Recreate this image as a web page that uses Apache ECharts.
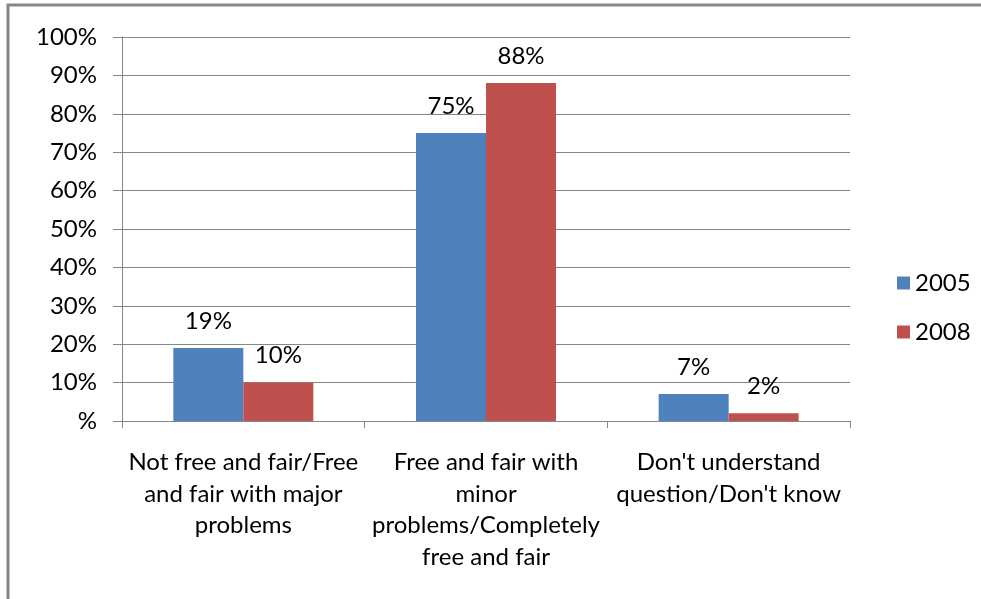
<!DOCTYPE html>
<html><head><meta charset="utf-8">
<script src="https://cdn.jsdelivr.net/npm/echarts@6/dist/echarts.min.js"></script>
<style>html,body{margin:0;padding:0;background:#fff}#c{width:981px;height:599px}</style>
</head><body><div id="c"></div>
<script>
const categories = [
  "Not free and fair/Free\nand fair with major\nproblems",
  "Free and fair with\nminor\nproblems/Completely\nfree and fair",
  "Don't understand\nquestion/Don't know"
];
const seriesNames = ["2005", "2008"];
const values2005 = [19, 75, 7];
const values2008 = [10, 88, 2];
const yTicks = [0, 10, 20, 30, 40, 50, 60, 70, 80, 90, 100];

const font = "Lato, 'Open Sans', sans-serif";
const fs = 24;
const chart = echarts.init(document.getElementById('c'));
const labelCfg = {show: true, position: 'top', distance: 15, color: '#000', fontSize: fs, fontFamily: font, formatter: p => p.value + '%'};
chart.setOption({
  animation: false,
  graphic: [
    {type: 'rect', shape: {x: 8, y: 5, width: 980, height: 600}, style: {fill: 'none', stroke: '#878787', lineWidth: 3}}
  ],
  grid: {left: 122, right: 131, top: 37, bottom: 178, containLabel: false},
  legend: {
    orient: 'vertical', left: 892, top: 266, itemWidth: 13, itemHeight: 13, itemGap: 25,
    icon: 'rect', textStyle: {fontSize: fs, fontFamily: font, color: '#000'},
    data: seriesNames
  },
  xAxis: {
    type: 'category', data: categories,
    axisLine: {lineStyle: {color: '#868686'}},
    axisTick: {show: true, length: 7, lineStyle: {color: '#868686'}},
    axisLabel: {color: '#000', fontSize: fs, fontFamily: font, lineHeight: 31.5, margin: 26, interval: 0}
  },
  yAxis: {
    type: 'value', min: 0, max: 100, interval: 10,
    axisLine: {show: true, lineStyle: {color: '#868686'}},
    axisTick: {show: true, length: 9, lineStyle: {color: '#868686'}},
    splitLine: {lineStyle: {color: '#868686'}},
    axisLabel: {color: '#000', fontSize: fs, fontFamily: font, margin: 25,
      formatter: v => yTicks.includes(v) ? (v === 0 ? '%' : v + '%') : ''}
  },
  series: [
    {name: seriesNames[0], type: 'bar', data: values2005, barWidth: 70, barGap: '0%', itemStyle: {color: '#4f81bd'}, label: labelCfg},
    {name: seriesNames[1], type: 'bar', data: values2008, barWidth: 70, barGap: '0%', itemStyle: {color: '#c0504d'}, label: labelCfg}
  ]
});
</script></body></html>
